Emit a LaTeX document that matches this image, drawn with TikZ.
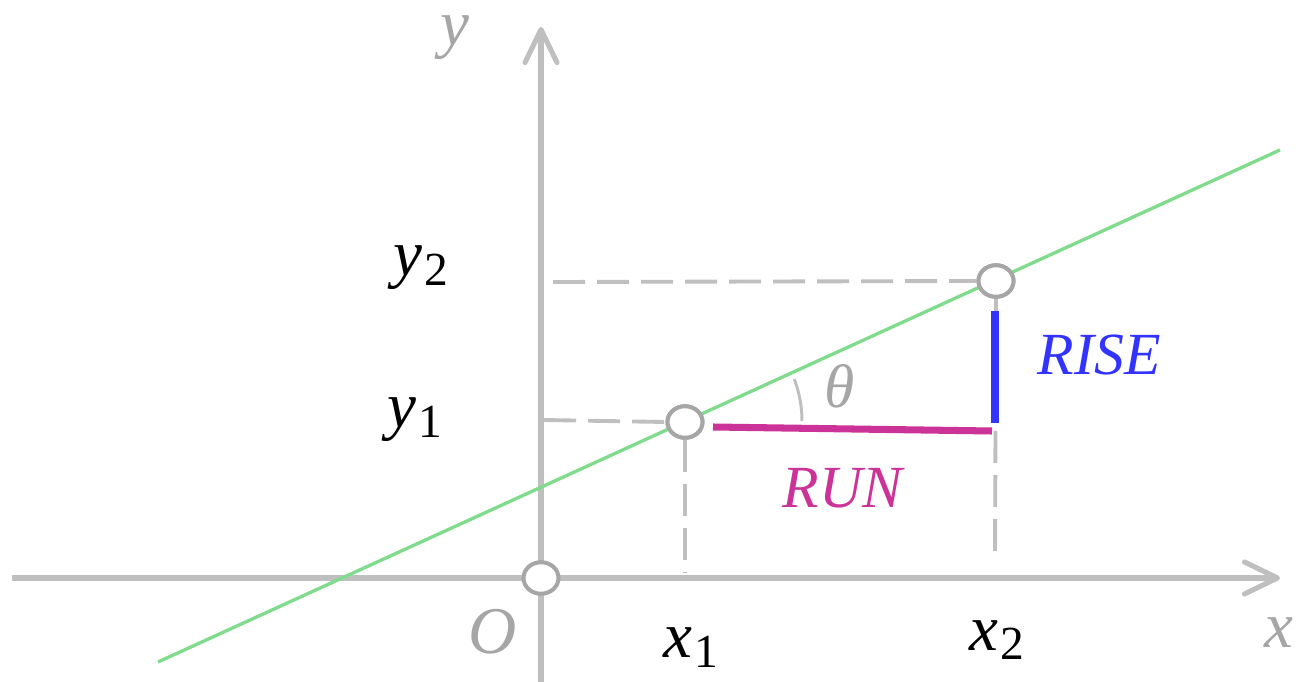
\documentclass[tikz,border=0pt]{standalone}
\usepackage{fontspec}
\setmainfont{Liberation Serif}
\usetikzlibrary{arrows.meta,shapes.geometric}
\definecolor{axisgray}{RGB}{191,191,191}
\definecolor{textgray}{RGB}{166,166,166}
\definecolor{linegreen}{RGB}{128,220,140}
\definecolor{runmag}{RGB}{204,51,153}
\definecolor{riseblue}{RGB}{51,51,255}
\newcommand\sublbl[2]{\textit{#1}\kern0.5pt\raisebox{-2.6pt}{\fontsize{13.5}{14}\selectfont #2}}
\tikzset{
  axisline/.style={draw=axisgray, line width=1.45pt, -{Straight Barb[length=0.33cm,width=0.32cm,round]}},
  guide/.style={draw=axisgray, line width=1.1pt, dash pattern=on 0.32cm off 0.12cm},
  ptmark/.style={ellipse, draw=textgray, fill=white, line width=1.15pt, minimum width=0.35cm, minimum height=0.315cm, inner sep=0pt},
  graylbl/.style={text=textgray, font=\fontsize{18.5}{22}\selectfont\itshape, inner sep=0pt},
  blacklbl/.style={text=black, font=\fontsize{18.5}{22}\selectfont, inner sep=0pt, anchor=base west},
  wordlbl/.style={font=\fontsize{17}{20}\selectfont\itshape, inner sep=0pt, anchor=base west},
}
\begin{document}
\begin{tikzpicture}[x=0.01cm, y=-0.01cm]
\useasboundingbox (0,0) rectangle (1296,682);
% coordinates
\coordinate (xs) at (12,578);
\coordinate (xe) at (1280,578);
\coordinate (ys) at (541,682);
\coordinate (ye) at (541,27);
\coordinate (gs) at (158,662);
\coordinate (ge) at (1280,150);
\coordinate (y1a) at (544,420);
\coordinate (y2a) at (553,282);
\coordinate (x1a) at (685,572);
\coordinate (x2a) at (995,560);
\coordinate (runa) at (713,427);
\coordinate (runb) at (992,431);
\coordinate (risea) at (995,311);
\coordinate (riseb) at (995,423);
% axes
\draw[axisline] (xs) -- (xe);
\draw[axisline] (ys) -- (ye);
% points
\node[ptmark] (o) at (541,578) {};
\node[ptmark] (p1) at (685,422) {};
\node[ptmark] (p2) at (996,281) {};
% guides
\draw[guide] (y2a) -- (p2.west);
\draw[guide] (y1a) -- (p1.west);
\draw[guide] (p1.south) -- (x1a);
\draw[guide] (p2.south) -- (x2a);
% green line
\draw[linegreen, line width=0.95pt] (gs) -- (ge);
% redraw point circles on top of green line
\node[ptmark] at (p1) {};
\node[ptmark] at (p2) {};
% run and rise
\draw[runmag, line width=2pt] (runa) -- (runb);
\draw[riseblue, line width=2.3pt] (risea) -- (riseb);
% angle arc
\draw[axisgray, line width=0.85pt] (802,421) arc[start angle=0, end angle=21, radius=1.17cm];
% labels
\node[graylbl, anchor=base] (ylab) at (455,46) {y};
\node[graylbl, anchor=base] (xlab) at (1279,647) {x};
\node[graylbl, anchor=base, font=\fontsize{19}{22}\selectfont\itshape] (olab) at (493,653) {O};
\node[graylbl, anchor=base, font=\fontsize{17.5}{22}\selectfont\itshape] (thlab) at (840,408) {θ};
\node[blacklbl] (x1lab) at (663,658) {\sublbl{x}{1}};
\node[blacklbl] (x2lab) at (969,650) {\sublbl{x}{2}};
\node[blacklbl] (y1lab) at (387,428) {\sublbl{y}{1}};
\node[blacklbl] (y2lab) at (393,276) {\sublbl{y}{2}};
\node[wordlbl, text=riseblue] (riselab) at (1037,375) {RISE};
\node[wordlbl, text=runmag] (runlab) at (782,508) {RUN};
\end{tikzpicture}
\end{document}
